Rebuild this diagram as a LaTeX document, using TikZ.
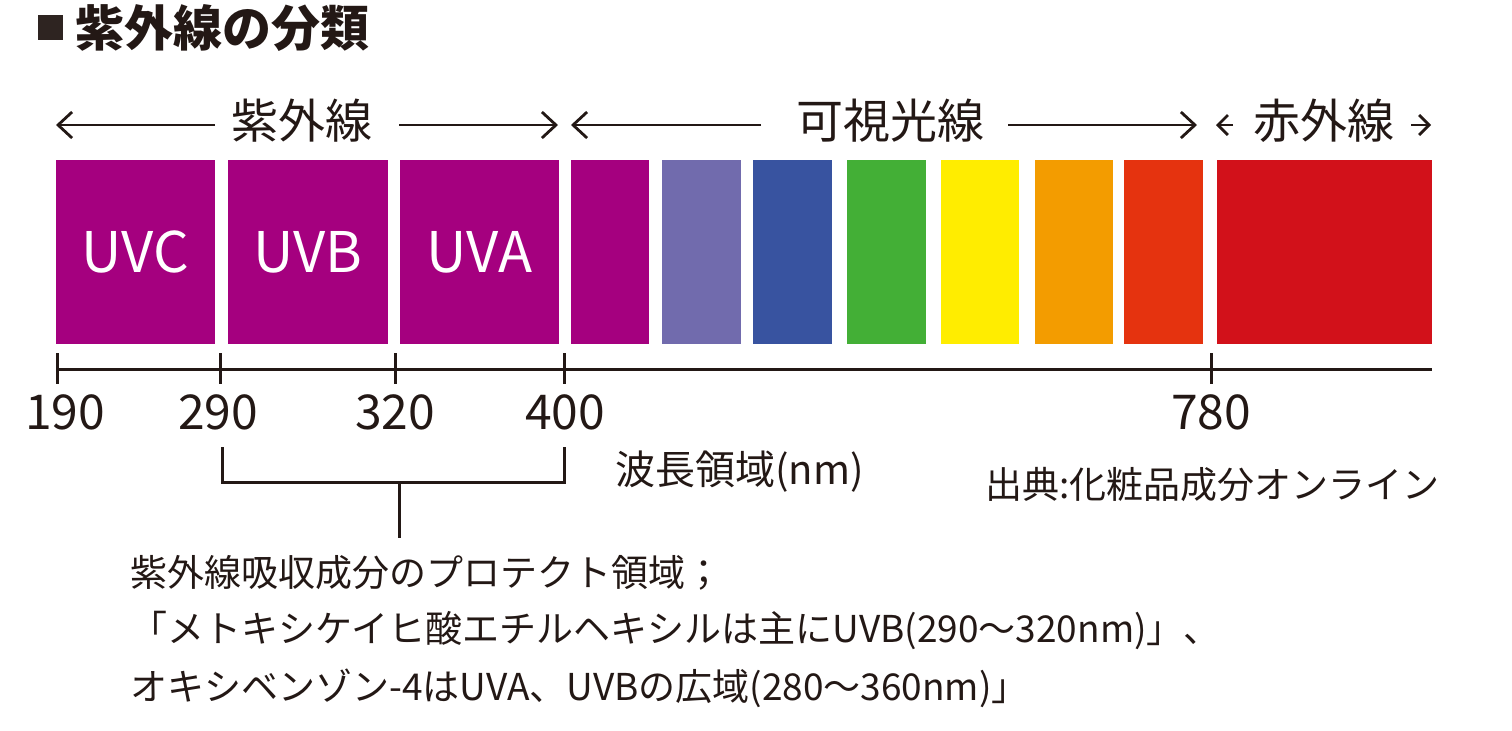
\documentclass[tikz,border=0pt]{standalone}
\usepackage{fontspec}
\setmainfont{Noto Sans CJK JP}
\usepackage{tikz}
\usetikzlibrary{arrows.meta}
\definecolor{ink}{HTML}{231815}
\definecolor{uvpurple}{HTML}{A5007F}
\definecolor{vlavender}{HTML}{716BAD}
\definecolor{vblue}{HTML}{3853A0}
\definecolor{vgreen}{HTML}{43AF36}
\definecolor{vyellow}{HTML}{FFED00}
\definecolor{vorange}{HTML}{F39C00}
\definecolor{vred}{HTML}{E5330F}
\definecolor{irred}{HTML}{D2111A}

\begin{document}
\begin{tikzpicture}[x=0.5pt, y=-0.5pt,
	band/.style={rectangle, inner sep=0pt, minimum height=92pt, text=white, font=\fontsize{28}{30}\selectfont},
	rangelabel/.style={text=ink, inner sep=0pt, font=\fontsize{23.5}{26}\selectfont},
	arr/.style={ink, line width=1.4pt, -{Straight Barb[length=7pt,width=13pt]}},
	shortarr/.style={ink, line width=1.4pt, -{Straight Barb[length=5pt,width=10pt]}},
	axisline/.style={ink, line width=1.5pt},
	num/.style={text=ink, inner sep=0pt, font=\fontsize{24}{26}\selectfont},
	note/.style={text=ink, inner sep=0pt, anchor=west, font=\fontsize{18.5}{20}\selectfont}]
	\useasboundingbox (0,0) rectangle (1512,730);

	% title
	\node[rectangle, fill=ink!95!white, minimum size=12.5pt, inner sep=0pt] (mark) at (50.5,27.5) {};
	\node[text=ink, inner sep=0pt, anchor=west, font=\bfseries\fontsize{24.5}{26}\selectfont] (title) at (75,28) {紫外線の分類};

	% ranges on top
	\node[rangelabel] (uv) at (302,121) {紫外線};
	\node[rangelabel] (vis) at (890,121) {可視光線};
	\node[rangelabel] (ir) at (1324,121) {赤外線};
	\coordinate (uvL) at (56,125);   \coordinate (uvA) at (215,125);
	\coordinate (uvB) at (399,125);  \coordinate (uvR) at (558,125);
	\coordinate (visL) at (571,125); \coordinate (visA) at (761,125);
	\coordinate (visB) at (1008,125);\coordinate (visR) at (1197,125);
	\coordinate (irL) at (1216,125); \coordinate (irA) at (1233,125);
	\coordinate (irB) at (1411,125); \coordinate (irR) at (1431,125);
	\draw[arr] (uvA) -- (uvL);
	\draw[arr] (uvB) -- (uvR);
	\draw[arr] (visA) -- (visL);
	\draw[arr] (visB) -- (visR);
	\draw[shortarr] (irA) -- (irL);
	\draw[shortarr] (irB) -- (irR);

	% bands
	\node[band, fill=uvpurple, minimum width=79.5pt] (uvc) at (135.5,252) {UVC};
	\node[band, fill=uvpurple, minimum width=80pt] (uvb) at (308,252) {UVB};
	\node[band, fill=uvpurple, minimum width=79.5pt] (uva) at (479.5,252) {UVA};
	\node[band, fill=uvpurple, minimum width=39pt] (v1) at (610,252) {};
	\node[band, fill=vlavender, minimum width=39.5pt] (v2) at (701.5,252) {};
	\node[band, fill=vblue, minimum width=39.5pt] (v3) at (792.5,252) {};
	\node[band, fill=vgreen, minimum width=39.5pt] (v4) at (886.5,252) {};
	\node[band, fill=vyellow, minimum width=39pt] (v5) at (980,252) {};
	\node[band, fill=vorange, minimum width=39pt] (v6) at (1074,252) {};
	\node[band, fill=vred, minimum width=39.5pt] (v7) at (1163.5,252) {};
	\node[band, fill=irred, minimum width=107.5pt] (irband) at (1324.5,252) {};

	% axis
	\coordinate (axL) at (56,369);
	\coordinate (axR) at (1432,369);
	\draw[axisline] (axL) -- (axR);
	\foreach \x/\name in {57/t190, 220/t290, 395/t320, 564/t400, 1211/t780} {
		\coordinate (\name) at (\x,369);
		\draw[axisline] ([yshift=8pt]\name) -- ([yshift=-7.5pt]\name);
	}
	\node[num] (n190) at (65,412) {190};
	\node[num] (n290) at (218,412) {290};
	\node[num] (n320) at (395,412) {320};
	\node[num] (n400) at (565,412) {400};
	\node[num] (n780) at (1211,412) {780};

	\node[note, font=\fontsize{20}{22}\selectfont] (unit) at (615,472) {波長領域(nm)};
	\node[note] (src) at (985,485) {出典:化粧品成分オンライン};

	% bracket
	\coordinate (bkL) at (222,447);
	\coordinate (bkR) at (564,447);
	\coordinate (bkM) at (399,482);
	\coordinate (bkS) at (399,538);
	\draw[axisline] (bkL) |- (bkM) -| (bkR);
	\draw[axisline] (bkM) -- (bkS);

	\node[note] (l1) at (130,573) {紫外線吸収成分のプロテクト領域；};
	\node[note] (l2) at (130,630) {「メトキシケイヒ酸エチルヘキシルは主にUVB(290〜320nm)」、};
	\node[note] (l3) at (130,688) {オキシベンゾン-4はUVA、UVBの広域(280〜360nm)」};
\end{tikzpicture}
\end{document}
